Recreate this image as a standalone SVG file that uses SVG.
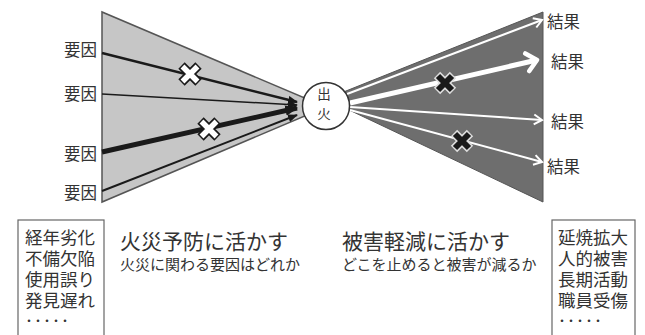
<svg xmlns="http://www.w3.org/2000/svg" width="645" height="335" viewBox="0 0 645 335">
<defs>
<style>
text{font-family:"Noto Sans CJK JP","Noto Sans CJK SC",sans-serif;fill:#333}
.lbl{font-size:16.5px}
.box{font-size:17.5px}
.ttl{font-size:21px}
.sub{font-size:15px}
.dots{font-size:10px;font-weight:bold;letter-spacing:-1px}
.bl{stroke:#1a1a1a;fill:none}
.wl{stroke:#fff;fill:none}
</style>
<marker id="ab" viewBox="0 0 10 8" refX="9" refY="4" markerWidth="10" markerHeight="8" markerUnits="userSpaceOnUse" orient="auto"><path d="M0,0 L10,4 L0,8 z" fill="#1a1a1a"/></marker>
<marker id="abL" viewBox="0 0 10 8" refX="9" refY="4" markerWidth="13" markerHeight="11" markerUnits="userSpaceOnUse" orient="auto"><path d="M0,0 L10,4 L0,8 z" fill="#1a1a1a"/></marker>
<marker id="aw" viewBox="-1 -7 11 14" refX="8" refY="0" markerWidth="11" markerHeight="14" markerUnits="userSpaceOnUse" orient="auto"><path d="M0,-5 L8,0 L0,5" fill="none" stroke="#fff" stroke-width="2"/></marker>
<marker id="awL" viewBox="-3 -12 17 24" refX="10" refY="0" markerWidth="17" markerHeight="24" markerUnits="userSpaceOnUse" orient="auto"><path d="M0,-9 L10,0 L0,9" fill="none" stroke="#fff" stroke-width="4.5" stroke-linecap="round" stroke-linejoin="round"/></marker>
<g id="xw"><path d="M-8.5,-8.5 L8.5,8.5 M8.5,-8.5 L-8.5,8.5" stroke="#1a1a1a" stroke-width="9"/><path d="M-7.5,-7.5 L7.5,7.5 M7.5,-7.5 L-7.5,7.5" stroke="#fff" stroke-width="5.5"/></g>
<g id="xb"><path d="M-8,-8 L8,8 M8,-8 L-8,8" stroke="#ddd" stroke-width="9"/><path d="M-7,-7 L7,7 M7,-7 L-7,7" stroke="#1a1a1a" stroke-width="6"/></g>
</defs>
<rect width="645" height="335" fill="#fff"/>

<g id="causes-fan">
<polygon points="102,12 102,202 326,107" fill="#c6c6c6" stroke="#555" stroke-width="1.5"/>
</g>
<g id="results-fan">
<polygon points="326,99 543,12 543,202" fill="#6e6e6e" stroke="#555" stroke-width="1"/>
</g>

<g id="connectors">
<line class="bl" x1="102" y1="53" x2="297" y2="102" stroke-width="2.5" marker-end="url(#ab)"/>
<line class="bl" x1="102" y1="94" x2="297" y2="105" stroke-width="1.5" marker-end="url(#ab)"/>
<line class="bl" x1="102" y1="152" x2="297" y2="108" stroke-width="5" marker-end="url(#abL)"/>
<line class="bl" x1="102" y1="191" x2="297" y2="115" stroke-width="2" marker-end="url(#ab)"/>
<line class="wl" x1="347" y1="94" x2="542" y2="20" stroke-width="2" marker-end="url(#aw)"/>
<line class="wl" x1="350" y1="103" x2="537" y2="60" stroke-width="5" marker-end="url(#awL)"/>
<line class="wl" x1="350" y1="107" x2="542" y2="120" stroke-width="2" marker-end="url(#aw)"/>
<line class="wl" x1="350" y1="110" x2="542" y2="162" stroke-width="2" marker-end="url(#aw)"/>
<use href="#xw" x="190" y="74"/>
<use href="#xw" x="209" y="129"/>
<use href="#xb" x="445" y="83"/>
<use href="#xb" x="462" y="141"/>
</g>

<g id="fire">
<circle cx="326" cy="106" r="23.5" fill="#fff" stroke="#333" stroke-width="1.5"/>
<text font-size="13.5" text-anchor="middle"><tspan x="324" y="99">出</tspan><tspan x="324" y="119">火</tspan></text>
</g>

<g id="cause-labels">
<text class="lbl" x="97" y="56" text-anchor="end">要因</text>
<text class="lbl" x="97" y="100" text-anchor="end">要因</text>
<text class="lbl" x="97" y="160" text-anchor="end">要因</text>
<text class="lbl" x="97" y="199" text-anchor="end">要因</text>
</g>
<g id="result-labels">
<text class="lbl" x="547" y="28">結果</text>
<text class="lbl" x="551" y="68">結果</text>
<text class="lbl" x="551" y="128">結果</text>
<text class="lbl" x="547" y="173">結果</text>
</g>

<g id="cause-box">
<rect x="18" y="220" width="86" height="130" fill="#fff" stroke="#666" stroke-width="1.2"/>
<text class="box"><tspan x="25" y="244">経年劣化</tspan><tspan x="25" y="265">不備欠陥</tspan><tspan x="25" y="286">使用誤り</tspan><tspan x="25" y="307">発見遅れ</tspan><tspan class="dots" x="24" y="325">・・・・・</tspan></text>
</g>

<g id="prevention">
<text class="ttl" x="120" y="249">火災予防に活かす</text>
<text class="sub" x="120" y="270">火災に関わる要因はどれか</text>
</g>
<g id="mitigation">
<text class="ttl" x="342" y="249">被害軽減に活かす</text>
<text class="sub" x="342" y="270">どこを止めると被害が減るか</text>
</g>

<g id="result-box">
<rect x="552" y="220" width="83" height="130" fill="#fff" stroke="#666" stroke-width="1.2"/>
<text class="box"><tspan x="558" y="244">延焼拡大</tspan><tspan x="558" y="265">人的被害</tspan><tspan x="558" y="286">長期活動</tspan><tspan x="558" y="307">職員受傷</tspan><tspan class="dots" x="557" y="325">・・・・・</tspan></text>
</g>
</svg>
